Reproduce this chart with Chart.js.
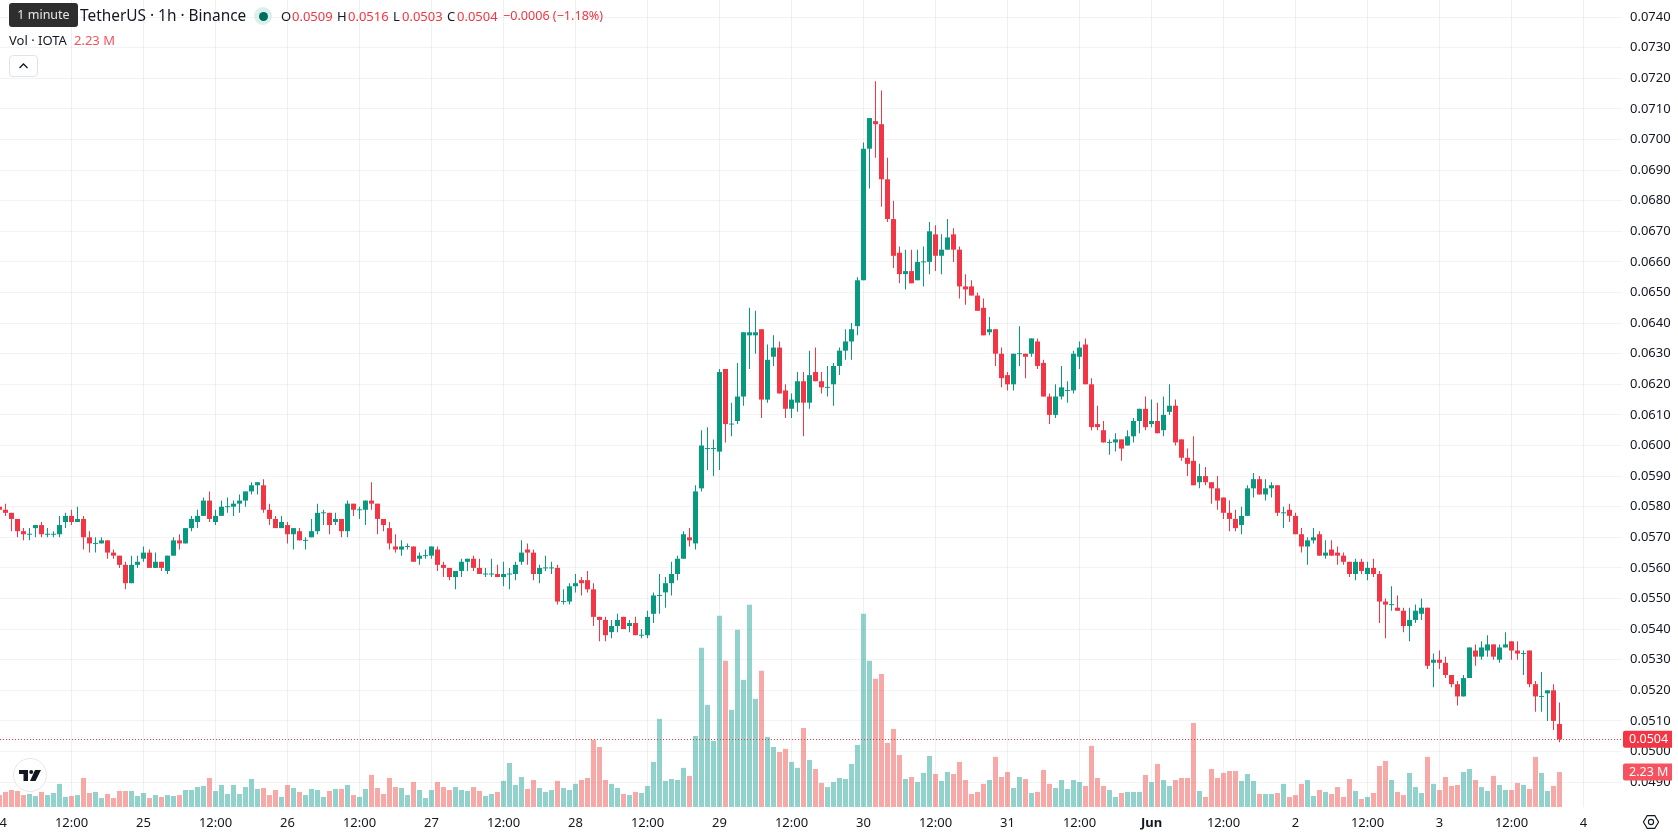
<!DOCTYPE html>
<html>
<head>
<meta charset="utf-8">
<title>TetherUS 1h</title>
<script src="https://cdn.jsdelivr.net/npm/chart.js@4/dist/chart.umd.min.js"></script>
<style>
  html, body { margin: 0; padding: 0; background: #fff; overflow: hidden; }
  body { width: 1678px; height: 835px; position: relative; font-family: "Noto Sans", sans-serif; color: #131722; }
  #chart-wrap { position: absolute; left: -6px; top: 0; width: 1684px; height: 835px; }
  .abs { position: absolute; white-space: nowrap; }
  .red { color: #f23645; }
  #tooltip { left: 9px; top: 3px; width: 69px; height: 24px; background: #2e2e2e; border-radius: 3px; color: #e8e8e8; font-size: 12.5px; line-height: 24px; text-align: center; }
  #title { left: 80px; top: 5px; font-size: 15.4px; line-height: 22px; }
  #status-dot { left: 254px; top: 7px; width: 18px; height: 18px; border-radius: 50%; background: #daf0ec; }
  #status-dot::after { content: ""; position: absolute; left: 4.5px; top: 4.5px; width: 9px; height: 9px; border-radius: 50%; background: #006d5b; }
  .ohlc { top: 7px; font-size: 13px; line-height: 18px; }
  #vol-label { left: 9px; top: 31px; font-size: 13px; line-height: 18px; }
  #vol-value { left: 74px; top: 31px; font-size: 13px; line-height: 18px; color: #f7525f; }
  #collapse { left: 9px; top: 55px; width: 27px; height: 20px; border: 1px solid #e0e3eb; border-radius: 4px; background: #fff; }
  #logo { left: 13px; top: 758px; width: 32px; height: 32px; border: 1px solid #e6e6e6; border-radius: 50%; background: #fff; }
</style>
</head>
<body>
<div id="chart-wrap"><canvas id="myChart" width="1684" height="835"></canvas></div>

<div class="abs" id="title">TetherUS · 1h · Binance</div>
<div class="abs" id="tooltip">1 minute</div>
<div class="abs" id="status-dot"></div>
<div class="abs ohlc" style="left:281px">O</div><div class="abs ohlc red" style="left:292px">0.0509</div>
<div class="abs ohlc" style="left:337px">H</div><div class="abs ohlc red" style="left:348px">0.0516</div>
<div class="abs ohlc" style="left:393px">L</div><div class="abs ohlc red" style="left:402px">0.0503</div>
<div class="abs ohlc" style="left:447px">C</div><div class="abs ohlc red" style="left:457px">0.0504</div>
<div class="abs ohlc red" style="left:503px;font-size:12.6px">−0.0006 (−1.18%)</div>
<div class="abs" id="vol-label">Vol · IOTA</div>
<div class="abs" id="vol-value">2.23 M</div>
<div class="abs" id="collapse">
  <svg width="27" height="20" viewBox="0 0 27 20"><path d="M9.5 12 L13.5 8 L17.5 12" fill="none" stroke="#131722" stroke-width="1.3"/></svg>
</div>
<div class="abs" id="logo">
  <svg width="32" height="32" viewBox="0 0 32 32">
    <path d="M5 11 H14 V22 H9.5 V15 H5 Z" fill="#131722"/>
    <circle cx="17.2" cy="13" r="2" fill="#131722"/>
    <path d="M21 11 H27 L21.5 22 H16 Z" fill="#131722"/>
  </svg>
</div>
<svg class="abs" style="left:1642px;top:813px" width="18" height="18" viewBox="0 0 18 18">
  <path d="M5.2 2.6 H12.8 L16.6 9 L12.8 15.4 H5.2 L1.4 9 Z" fill="none" stroke="#131722" stroke-width="1.1"/>
  <circle cx="9" cy="9" r="2.6" fill="none" stroke="#131722" stroke-width="1.1"/>
</svg>

<script>
// hourly candles, prices in 1/10000 USDT
const opens = [580,579,578,576,572,571,573,574,571,571,571,575,577,575,576,570,568,568,569,565,564,561,555,561,563,565,560,562,559,564,569,568,573,575,577,582,575,577,580,580,581,582,585,587,587,579,576,573,574,571,572,569,570,572,578,578,575,576,572,581,579,579,582,581,576,573,567,566,567,567,563,564,564,566,561,560,557,559,562,563,560,558,558,558,557,558,558,562,566,565,558,560,560,560,549,549,554,556,556,553,544,543,539,541,544,541,542,538,538,545,551,552,555,558,563,570,568,586,599,599,598,625,607,608,616,636,636,638,615,629,632,618,612,614,621,614,624,621,619,620,626,631,634,639,654,697,706,705,687,674,663,656,657,654,660,660,669,662,664,669,664,652,652,649,645,637,638,630,623,620,630,630,630,634,627,616,610,616,618,618,629,633,620,607,605,601,601,602,600,603,608,612,607,608,605,611,613,602,596,595,588,590,588,586,583,578,576,574,577,586,589,584,586,587,578,579,577,571,567,569,571,564,566,565,564,562,558,562,558,560,558,549,548,547,546,541,543,545,547,529,530,529,525,522,518,524,533,531,533,535,530,534,536,533,532,533,522,518,519,520,509];
const highs = [580,581,578,576,573,573,574,575,573,572,577,578,579,580,577,572,570,570,569,566,564,562,564,564,567,566,565,562,564,570,571,573,577,579,583,585,579,582,583,582,584,585,588,588,589,581,577,577,575,573,573,570,576,581,579,578,578,576,582,581,580,582,588,581,576,575,571,569,568,567,565,566,567,567,562,560,559,563,563,564,563,560,563,561,562,560,562,569,568,566,561,564,562,561,553,555,558,557,559,555,544,544,543,545,544,543,544,540,546,552,558,557,562,564,572,573,587,605,606,602,625,625,614,627,637,645,644,638,633,636,634,620,617,624,624,631,632,624,626,627,632,638,640,655,699,707,719,716,694,680,665,664,664,664,665,673,672,669,674,671,665,656,654,650,648,642,638,632,624,630,639,630,635,635,628,617,620,626,621,631,634,635,622,613,608,602,604,602,605,609,612,616,615,614,616,620,615,602,599,603,594,593,588,590,583,582,579,580,587,591,590,589,588,587,580,581,578,573,570,573,572,569,569,567,565,562,563,563,562,563,559,550,554,551,547,547,548,550,547,532,533,531,525,523,525,534,535,536,538,535,535,539,536,536,533,533,523,526,520,522,516];
const lows = [579,577,572,570,569,569,570,570,570,570,570,573,574,575,566,565,565,568,563,563,560,553,555,560,562,560,560,559,558,564,566,568,572,573,577,575,574,577,578,577,578,580,584,584,578,574,573,573,568,566,569,566,570,571,574,571,574,570,570,577,576,574,579,571,572,566,565,564,566,562,561,563,563,559,557,556,553,557,559,559,558,557,557,557,554,553,556,561,561,556,555,559,558,548,548,548,552,551,552,541,536,536,537,539,540,539,538,537,537,542,545,547,551,556,563,567,566,585,592,590,592,601,603,607,613,625,630,609,614,626,617,609,609,611,603,612,621,617,616,613,623,628,628,636,654,684,694,678,673,658,653,651,653,654,652,656,657,656,664,660,648,646,649,644,636,636,626,619,618,618,626,622,629,625,616,607,609,615,614,617,625,620,605,605,601,597,598,595,600,601,604,605,606,604,603,610,600,595,590,587,586,587,581,579,576,572,572,571,577,583,584,582,583,577,573,575,571,565,561,568,564,563,564,561,561,557,556,558,556,557,542,537,546,546,539,536,542,543,527,521,527,524,521,515,518,524,528,530,531,530,529,534,530,530,525,521,513,513,510,507,503];
const closes = [579,578,576,572,571,571,574,571,571,571,574,577,575,576,570,568,568,569,565,564,561,555,561,562,565,560,562,560,564,569,568,573,576,577,582,576,577,580,580,581,582,585,587,588,579,576,573,575,571,573,569,569,572,578,578,574,576,572,581,579,579,582,581,576,574,568,566,567,567,562,564,564,567,561,560,557,559,562,563,560,558,558,558,557,558,558,561,565,565,558,560,560,560,549,549,554,555,555,553,544,543,538,541,543,540,542,538,538,544,551,551,555,558,563,571,569,585,600,599,599,624,607,607,616,637,637,637,615,628,632,617,612,615,621,614,623,621,619,619,626,631,634,638,654,697,707,705,687,674,662,656,657,653,660,660,670,662,664,668,664,652,651,649,644,636,638,630,622,620,630,630,629,635,626,616,610,616,619,618,630,632,620,606,606,601,601,602,599,603,608,612,606,608,604,610,613,601,596,594,587,590,588,586,582,578,576,573,577,586,589,584,586,587,578,578,577,571,567,569,570,564,565,564,564,562,558,562,559,560,558,549,548,548,546,541,543,546,547,528,530,529,525,522,518,524,534,531,534,535,531,534,535,533,532,532,522,518,518,520,510,504];
// volume per candle, millions of IOTA
const volumes = [0.76,0.96,1.08,1.02,0.76,0.83,0.70,0.96,0.76,0.89,1.47,0.64,0.70,0.76,1.85,0.89,0.96,0.57,0.83,0.57,1.02,1.02,1.02,0.70,0.89,0.57,0.76,0.64,0.76,0.70,0.76,1.08,1.08,1.27,1.34,1.85,1.02,1.40,0.83,1.40,0.83,1.27,1.78,1.15,1.21,0.76,1.08,0.64,1.40,1.21,0.96,0.76,1.15,1.08,0.64,1.02,1.15,1.15,1.40,0.76,0.64,1.15,2.04,1.21,0.83,1.85,1.27,1.21,0.76,1.59,1.08,0.57,1.08,1.59,1.27,1.08,1.27,1.08,1.02,1.27,1.02,0.70,0.83,0.96,1.66,2.80,1.40,1.91,1.15,1.72,1.21,0.96,1.08,1.66,1.21,1.08,1.47,1.72,1.85,4.27,3.82,1.72,1.47,1.21,0.83,0.76,0.96,0.89,1.34,2.87,5.61,1.66,1.78,1.72,2.49,1.98,4.52,10.13,6.50,4.21,12.17,9.30,6.18,11.28,8.09,12.87,6.88,8.67,4.46,3.82,3.50,3.70,2.87,2.49,5.03,2.99,2.42,1.53,1.27,1.59,1.85,1.78,2.74,3.95,12.30,9.30,8.16,8.47,4.08,4.97,3.31,1.78,1.91,1.59,2.17,3.25,2.10,1.66,2.23,2.10,2.87,1.72,0.83,0.96,1.47,1.72,3.19,1.91,2.23,1.21,1.91,1.78,0.89,0.96,2.36,1.47,1.21,1.72,1.15,1.72,1.59,1.34,3.89,1.85,1.34,1.08,0.64,0.89,0.96,0.96,0.96,2.04,1.59,2.74,1.72,1.34,1.72,1.85,1.85,5.35,1.02,0.64,2.42,1.85,2.17,2.29,2.29,1.66,2.10,1.66,0.83,0.83,0.83,0.89,1.47,0.64,0.76,1.47,1.72,0.70,1.08,0.96,0.83,1.27,0.64,1.78,1.02,0.51,0.64,0.89,2.61,2.93,1.72,0.96,0.76,2.17,1.27,0.89,3.19,1.47,1.08,1.91,1.34,1.40,2.23,2.42,1.72,1.27,1.02,1.98,1.40,1.08,1.08,1.53,1.40,1.15,3.19,2.17,1.02,1.34,2.23];
const priceTicks = [490,500,510,520,530,540,550,560,570,580,590,600,610,620,630,640,650,660,670,680,690,700,710,720,730,740];
// candle index of each time label
const timeTicks = [0,12,24,36,48,60,72,84,96,108,120,132,144,156,168,180,192,204,216,228,240,252,264];
const timeLabels = ["24","12:00","25","12:00","26","12:00","27","12:00","28","12:00","29","12:00","30","12:00","31","12:00","Jun","12:00","2","12:00","3","12:00","4"];
const lastVolumeLabel = "2.23 M";

const GREEN = "#089981";
const RED = "#f23645";
const AXIS_FONT = "Noto Sans";

const isUp = (i) => closes[i] >= opens[i];
const hours = opens.map((_, i) => i);

// last price line with its axis tags
const lastPricePlugin = {
  id: "lastPrice",
  afterDatasetsDraw(chart) {
    const { ctx, chartArea, scales } = chart;
    const last = closes.length - 1;
    const y = scales.y.getPixelForValue(closes[last]);
    ctx.save();
    ctx.strokeStyle = RED;
    ctx.lineWidth = 1;
    ctx.setLineDash([1, 2]);
    ctx.beginPath();
    ctx.moveTo(chartArea.left, Math.floor(y) + 0.5);
    ctx.lineTo(chartArea.right, Math.floor(y) + 0.5);
    ctx.stroke();
    ctx.setLineDash([]);
    ctx.restore();
  },
  afterDraw(chart) {
    const { ctx, chartArea, scales } = chart;
    const last = closes.length - 1;
    const tag = (y, color, text) => {
      ctx.fillStyle = color;
      ctx.beginPath();
      ctx.roundRect(chartArea.right + 1, y - 8.5, 49, 17, [2, 0, 0, 2]);
      ctx.fill();
      ctx.fillStyle = "#fff";
      ctx.font = "12.5px " + AXIS_FONT;
      ctx.textAlign = "left";
      ctx.textBaseline = "middle";
      ctx.fillText(text, chartArea.right + 7, y + 0.5);
    };
    ctx.save();
    tag(scales.y.getPixelForValue(closes[last]), RED, (closes[last] / 10000).toFixed(4));
    tag(scales.vol.getPixelForValue(volumes[last]), "#f7525f", lastVolumeLabel);
    ctx.restore();
  },
};

const myChart = new Chart(document.getElementById("myChart"), {
  data: {
    datasets: [
      {
        type: "bar",
        label: "Body",
        data: hours.map((i) => ({
          x: i,
          // dojis still need a visible line
          y: opens[i] === closes[i] ? [opens[i] - 0.16, opens[i] + 0.16] : [opens[i], closes[i]],
        })),
        backgroundColor: hours.map((i) => (isUp(i) ? GREEN : RED)),
        barThickness: 5,
        inflateAmount: 0,
        grouped: false,
        order: 1,
        yAxisID: "y",
      },
      {
        type: "bar",
        label: "Wick",
        data: hours.map((i) => ({ x: i, y: [lows[i], highs[i]] })),
        backgroundColor: hours.map((i) => (isUp(i) ? GREEN : RED)),
        barThickness: 1,
        inflateAmount: 0,
        grouped: false,
        order: 2,
        yAxisID: "y",
      },
      {
        type: "bar",
        label: "Volume",
        data: hours.map((i) => ({ x: i, y: volumes[i] })),
        backgroundColor: hours.map((i) => (isUp(i) ? "rgba(38,166,154,0.5)" : "rgba(239,83,80,0.5)")),
        barThickness: 5,
        inflateAmount: 0,
        grouped: false,
        order: 3,
        yAxisID: "vol",
      },
    ],
  },
  options: {
    responsive: false,
    animation: false,
    layout: { padding: 0 },
    plugins: { legend: { display: false }, tooltip: { enabled: false } },
    scales: {
      x: {
        type: "linear",
        offset: false,
        // 6 px per candle
        min: -11 / 12,
        max: 270 + 5 / 12,
        afterBuildTicks(scale) {
          scale.ticks = timeTicks.map((value) => ({ value }));
        },
        afterFit(scale) {
          scale.height = 28;
          scale.paddingLeft = 0;
          scale.paddingRight = 0;
        },
        grid: { color: "rgba(42,46,57,0.07)", drawTicks: false, offset: false },
        border: { display: false },
        ticks: {
          autoSkip: false,
          maxRotation: 0,
          padding: 8,
          color: "#131722",
          font: (ctx) => ({
            family: AXIS_FONT,
            size: 13,
            weight: ctx.tick && ctx.tick.value === 192 ? "bold" : "normal",
          }),
          callback: (value) => timeLabels[timeTicks.indexOf(value)],
        },
      },
      y: {
        type: "linear",
        position: "right",
        min: 481.863,
        max: 745.588,
        afterBuildTicks(scale) {
          scale.ticks = priceTicks.map((value) => ({ value }));
        },
        afterFit(scale) {
          scale.width = 56;
          scale.paddingTop = 0;
          scale.paddingBottom = 0;
        },
        grid: { color: "rgba(42,46,57,0.06)", drawTicks: false },
        border: { display: false },
        ticks: {
          autoSkip: false,
          padding: 8,
          color: "#131722",
          font: { family: AXIS_FONT, size: 13 },
          callback: (value) => (value / 10000).toFixed(4),
        },
      },
      vol: {
        type: "linear",
        display: false,
        min: 0,
        max: 51.35,
        grid: { display: false },
      },
    },
  },
  plugins: [lastPricePlugin],
});
</script>
</body>
</html>
